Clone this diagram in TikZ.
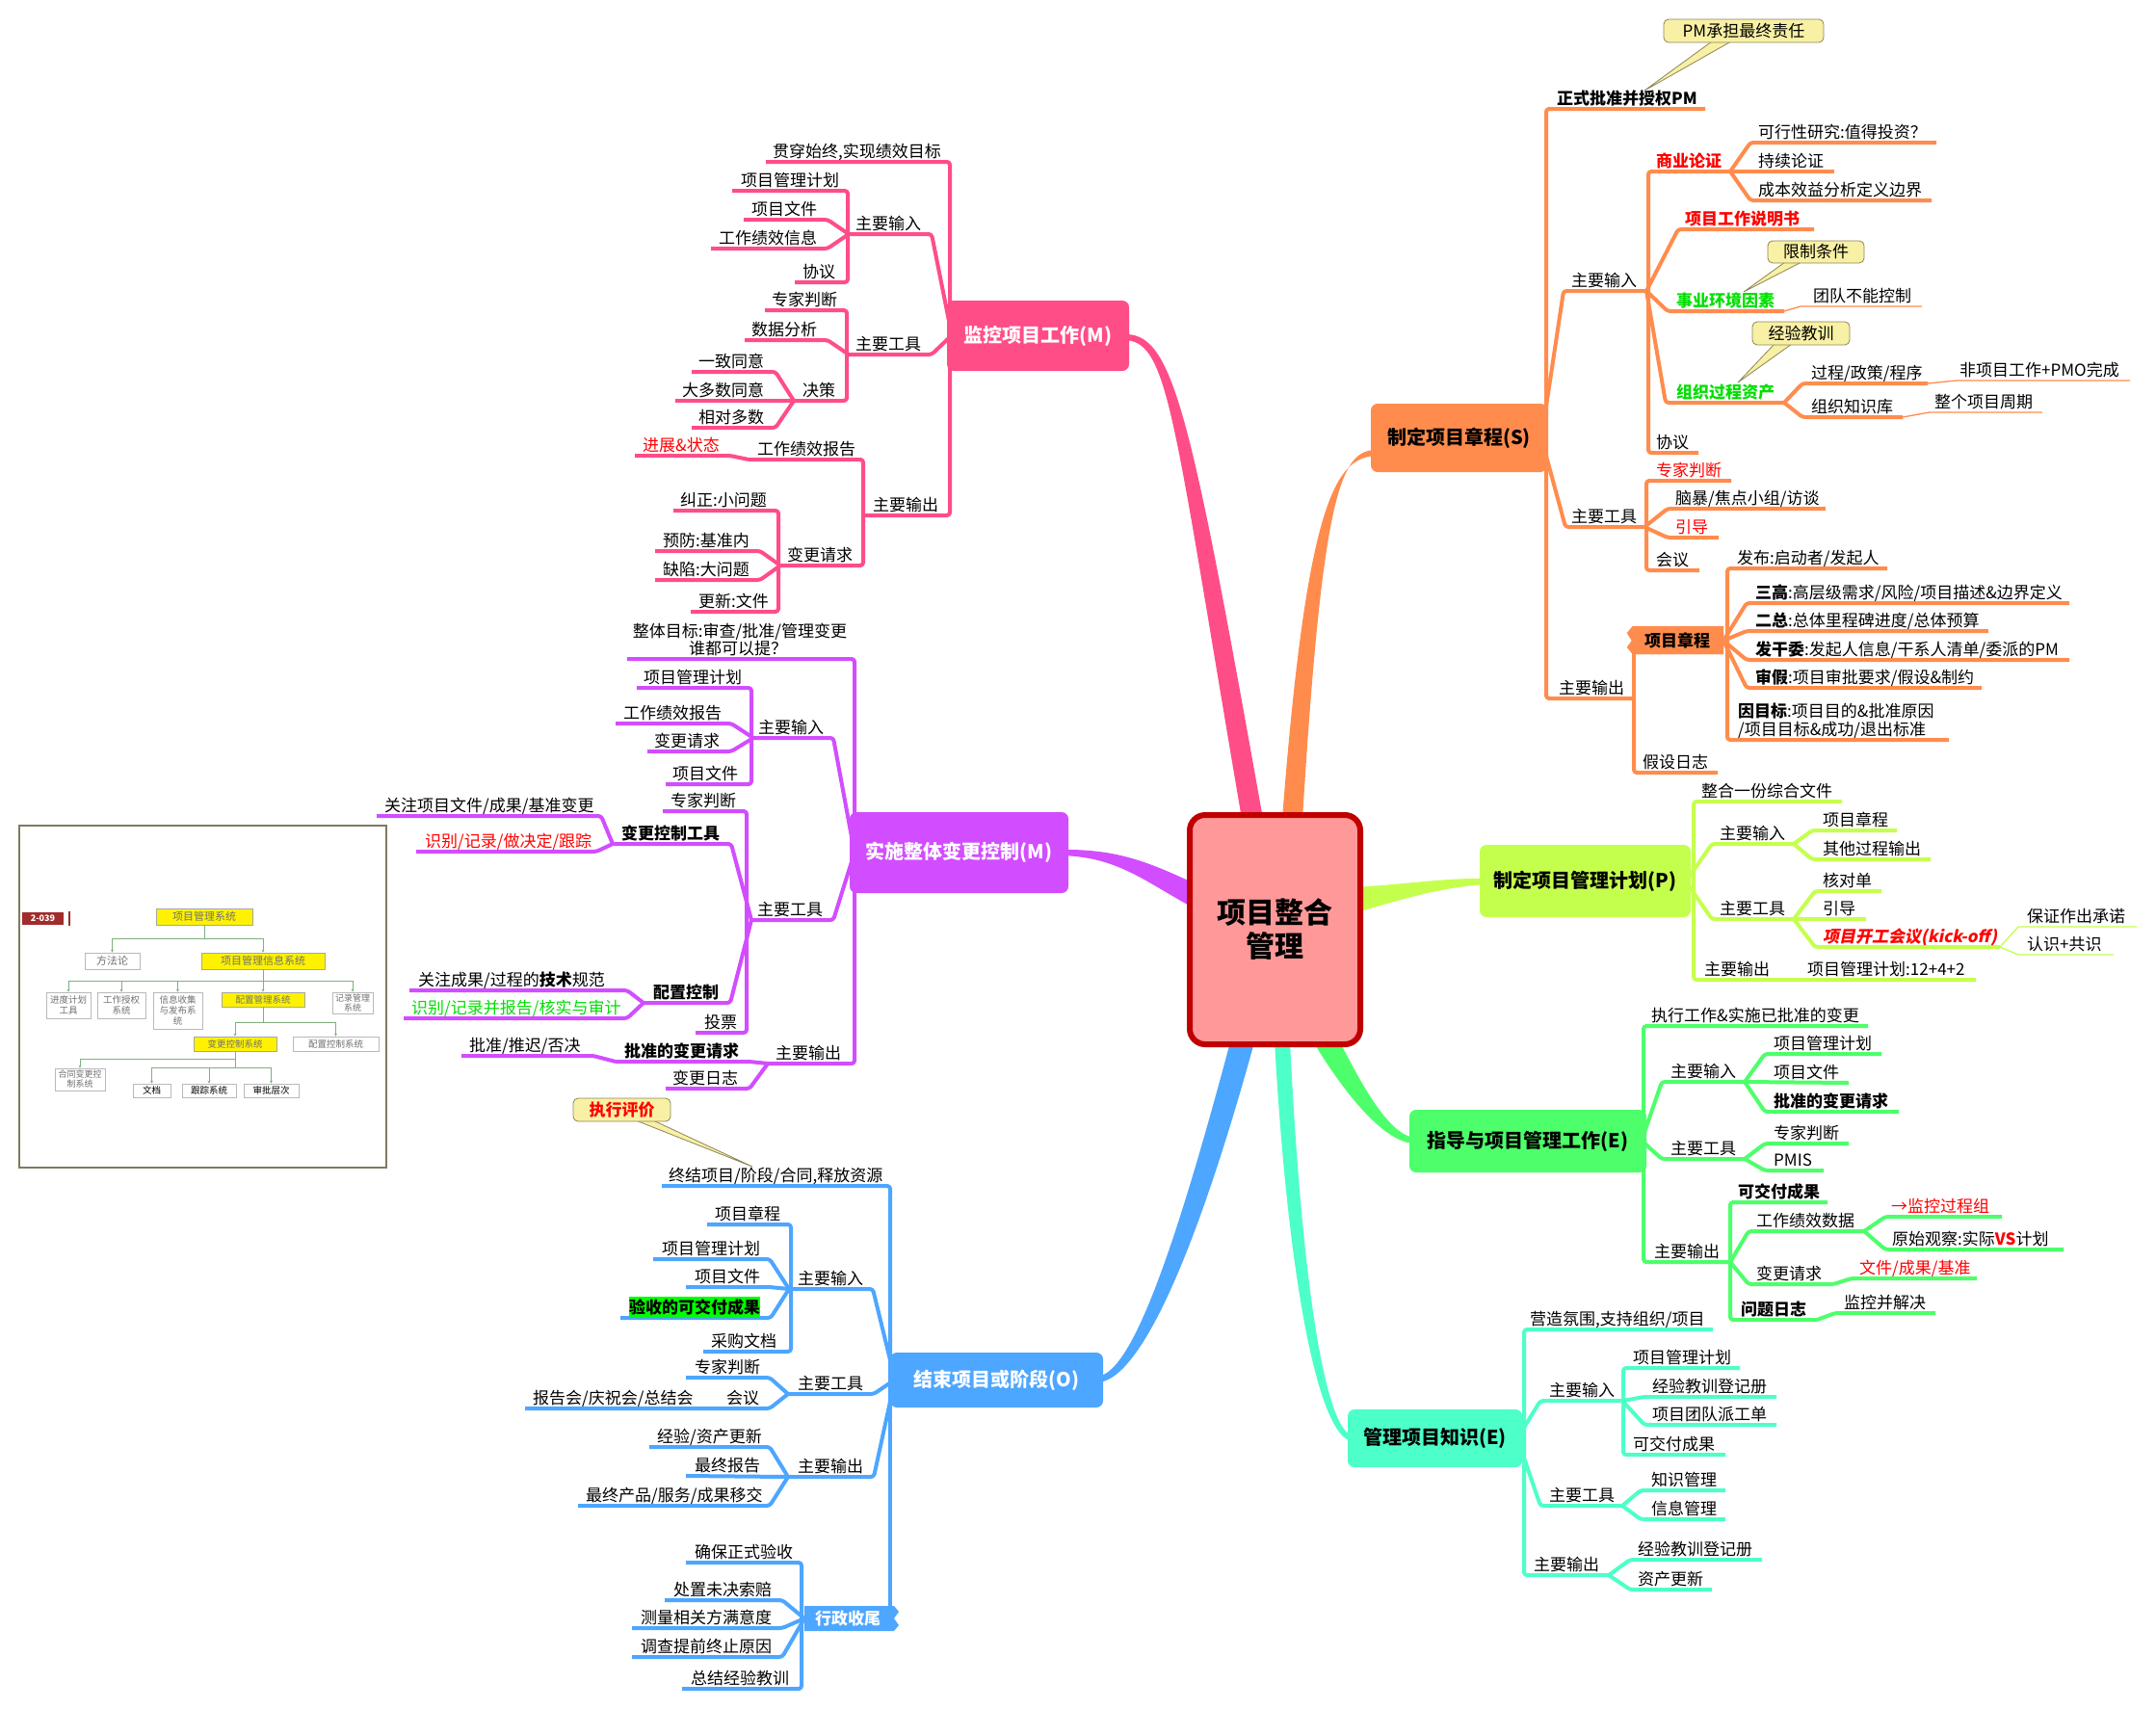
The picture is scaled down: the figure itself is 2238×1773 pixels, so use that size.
\documentclass[tikz,border=0pt]{standalone}
\usepackage{fontspec}
\setmainfont{Noto Sans CJK SC}
\newfontfamily\kickfont[FakeSlant=0.2]{Noto Sans CJK SC}
\usetikzlibrary{arrows.meta}
\definecolor{cM}{HTML}{FF4D88}
\definecolor{cS}{HTML}{FF8C4D}
\definecolor{cP}{HTML}{C5FF4D}
\definecolor{cE}{HTML}{4DFF6A}
\definecolor{cK}{HTML}{4DFFC8}
\definecolor{cO}{HTML}{4DA6FF}
\definecolor{cC}{HTML}{D24DFF}
\definecolor{cRoot}{HTML}{FF9999}
\definecolor{cRootB}{HTML}{C00000}
\definecolor{callY}{HTML}{F8F0A4}
\definecolor{callB}{HTML}{8C8658}
\definecolor{gtxt}{HTML}{00E000}
\definecolor{hlg}{HTML}{00FF00}
\definecolor{inF}{HTML}{7F7A60}
\definecolor{inG}{HTML}{7FB07F}
\definecolor{inT}{HTML}{707070}
\definecolor{badge}{HTML}{A02C2C}
\newcommand\fsN{\fontsize{17pt}{19.5pt}\selectfont}
\newcommand\fsT{\fontsize{20pt}{24pt}\selectfont\bfseries}
\newcommand\fsC{\fontsize{17pt}{20pt}\selectfont}
\newcommand\Lb[4][]{\node[lbl,#1] (#2) at (#3) {#4};}
\tikzset{
 lbl/.style={anchor=base west, yshift=5pt, inner sep=0pt, font=\fsN},
 bld/.style={font=\fsN\bfseries},
 ln/.style={line width=4pt, line join=round, line cap=butt, rounded corners=3pt},
 thn/.style={line width=1.3pt, line join=round},
 topic/.style={rounded corners=7pt, inner sep=0pt, font=\fsT, align=center},
 clbox/.style={fill=callY, draw=callB, line width=0.8pt, rounded corners=5pt, inner sep=0pt, font=\fsC},
 ibox/.style={draw=gray!55, fill=white, line width=0.6pt, inner sep=0pt, align=center, text=inT, font=\fontsize{9.5pt}{11pt}\selectfont},
 iyel/.style={ibox, fill=yellow, draw=gray!70},
 ic/.style={draw=inG, line width=0.8pt},
 ia/.style={ic, -{Stealth[length=3pt,width=3pt]}},
}
\begin{document}
\begin{tikzpicture}[x=1pt,y=-1pt]
\fill[white] (0,0) rectangle (2238,1773);
\useasboundingbox (0,0) rectangle (2238,1773);

% ---------- tapered main branches ----------
\fill[cM] (1165,347) .. controls (1217,344) and (1234,418) .. (1311,850) -- (1289,850) .. controls (1216,422) and (1213,352) .. (1165,353) -- cycle;
\fill[cS] (1430,467) .. controls (1392,466) and (1373,508) .. (1352,850) -- (1331,850) .. controls (1357,512) and (1388,474) .. (1430,473) -- cycle;
\fill[cP] (1545,912) .. controls (1500,911) and (1460,918) .. (1405,921) -- (1405,948) .. controls (1460,932) and (1500,920) .. (1545,918) -- cycle;
\fill[cE] (1470,1181) .. controls (1442,1180) and (1413,1125) .. (1388,1076) -- (1366,1086) .. controls (1396,1135) and (1438,1188) .. (1470,1187) -- cycle;
\fill[cK] (1405,1490) .. controls (1378,1489) and (1352,1350) .. (1339,1080) -- (1323,1080) .. controls (1338,1350) and (1372,1497) .. (1405,1496) -- cycle;
\fill[cO] (1138,1435) .. controls (1178,1436) and (1235,1325) .. (1302,1082) -- (1278,1078) .. controls (1215,1315) and (1172,1428) .. (1138,1429) -- cycle;
\fill[cC] (1100,882) .. controls (1160,881) and (1192,895) .. (1240,917) -- (1240,943) .. controls (1188,915) and (1160,889) .. (1100,888) -- cycle;

% ---------- S branch lines ----------
\begin{scope}[draw=cS]
\draw[ln] (1605,455) |- (1770,113);
\draw[ln] (1600,455) -- (1623,302) -- (1709,302);
\draw[ln] (1711,302) |- (1796,178);
\draw[ln] (1796,178) -- (1817,148) -- (2010,148);
\draw[ln] (1796,178) -- (1904,178);
\draw[ln] (1796,178) -- (1817,208) -- (2005,208);
\draw[ln] (1709,302) -- (1742,238) -- (1883,238);
\draw[ln] (1709,302) -- (1731,323) -- (1852,323);
\draw[thn] (1852,323) -- (1869,318) -- (1995,318);
\draw[ln] (1709,302) -- (1729,418) -- (1852,418);
\draw[ln] (1852,418) -- (1871,398) -- (2001,398);
\draw[thn] (2001,398) -- (2031,395) -- (2211,395);
\draw[ln] (1852,418) -- (1871,433) -- (1975,433);
\draw[thn] (1975,433) -- (2003,428) -- (2120,428);
\draw[ln] (1711,302) |- (1763,470);
\draw[ln] (1600,455) -- (1625,547) -- (1707,547);
\draw[ln] (1709,547) |- (1797,499);
\draw[ln] (1707,547) -- (1731,528) -- (1895,528);
\draw[ln] (1707,547) -- (1731,558) -- (1784,558);
\draw[ln] (1709,547) |- (1764,592);
\draw[ln] (1605,455) |- (1696,725);
\draw[ln] (1696,725) |- (1783,802);
\draw[ln] (1696,725) -- (1696,670);
\draw[ln] (1793,665) |- (1959,590);
\draw[ln] (1789,665) -- (1813,626) -- (2148,626);
\draw[ln] (1789,665) -- (1813,655) -- (2064,655);
\draw[ln] (1789,665) -- (1813,685) -- (2148,685);
\draw[ln] (1789,665) -- (1813,714) -- (2057,714);
\draw[ln] (1793,665) |- (2023,768);
\end{scope}
\filldraw[cS] (1695,650) -- (1789,650) -- (1789,679) -- (1695,679) -- (1689,672) -- (1694,665) -- (1689,657) -- cycle;

% ---------- P branch lines ----------
\begin{scope}[draw=cP]
\draw[ln] (1758,915) |- (1912,832);
\draw[ln] (1750,915) -- (1777,876) -- (1862,876);
\draw[ln] (1862,876) -- (1881,862) -- (1969,862);
\draw[ln] (1862,876) -- (1881,892) -- (2004,892);
\draw[ln] (1750,915) -- (1777,954) -- (1862,954);
\draw[ln] (1862,954) -- (1884,925) -- (1953,925);
\draw[ln] (1862,954) -- (1937,954);
\draw[ln] (1862,954) -- (1884,983) -- (2076,983);
\draw[thn] (2076,983) -- (2095,962) -- (2218,962);
\draw[thn] (2076,983) -- (2095,991) -- (2194,991);
\draw[ln] (1758,915) |- (2051,1017);
\end{scope}

% ---------- E branch lines ----------
\begin{scope}[draw=cE]
\draw[ln] (1706,1184) |- (1939,1065);
\draw[ln] (1704,1184) -- (1725,1123) -- (1811,1123);
\draw[ln] (1811,1123) -- (1832,1094) -- (1953,1094);
\draw[ln] (1811,1123) -- (1919,1124);
\draw[ln] (1811,1123) -- (1832,1154) -- (1971,1154);
\draw[ln] (1704,1184) -- (1725,1203) -- (1811,1203);
\draw[ln] (1811,1203) -- (1832,1187) -- (1919,1187);
\draw[ln] (1811,1203) -- (1832,1215) -- (1893,1215);
\draw[ln] (1706,1184) |- (1796,1310);
\draw[ln] (1796,1310) |- (1897,1248);
\draw[ln] (1796,1310) -- (1815,1278) -- (1935,1278);
\draw[ln] (1935,1278) -- (1957,1263) -- (2078,1263);
\draw[ln] (1935,1278) -- (1957,1297) -- (2142,1297);
\draw[ln] (1796,1310) -- (1815,1333) -- (1903,1333);
\draw[ln] (1903,1333) -- (1922,1327) -- (2052,1327);
\draw[ln] (1796,1310) |- (1886,1370);
\draw[ln] (1886,1370) -- (1905,1363) -- (2009,1363);
\end{scope}

% ---------- K branch lines ----------
\begin{scope}[draw=cK]
\draw[ln] (1582,1493) |- (1778,1380);
\draw[ln] (1575,1493) -- (1599,1454) -- (1684,1454);
\draw[ln] (1685,1454) |- (1806,1420);
\draw[ln] (1684,1454) -- (1707,1450) -- (1844,1450);
\draw[ln] (1684,1454) -- (1707,1479) -- (1844,1479);
\draw[ln] (1685,1454) |- (1791,1510);
\draw[ln] (1575,1493) -- (1599,1563) -- (1684,1563);
\draw[ln] (1684,1563) -- (1703,1547) -- (1791,1547);
\draw[ln] (1684,1563) -- (1703,1577) -- (1791,1577);
\draw[ln] (1582,1493) |- (1670,1635);
\draw[ln] (1670,1635) -- (1692,1619) -- (1829,1619);
\draw[ln] (1670,1635) -- (1692,1650) -- (1777,1650);
\end{scope}

% ---------- M (monitor) branch lines ----------
\begin{scope}[draw=cM]
\draw[ln] (986,348) |- (795,168);
\draw[ln] (988,348) -- (967,243) -- (881,243);
\draw[ln] (880,243) |- (760,198);
\draw[ln] (881,243) -- (859,228) -- (772,228);
\draw[ln] (881,243) -- (859,258) -- (738,258);
\draw[ln] (880,243) |- (825,293);
\draw[ln] (988,348) -- (967,368) -- (881,368);
\draw[ln] (879,368) |- (794,322);
\draw[ln] (881,368) -- (859,353) -- (773,353);
\draw[ln] (879,368) |- (824,416);
\draw[ln] (824,416) -- (805,386) -- (718,386);
\draw[ln] (824,416) -- (701,416);
\draw[ln] (824,416) -- (805,444) -- (718,444);
\draw[ln] (986,348) |- (897,535);
\draw[ln] (896,535) |- (777,477);
\draw[ln] (777,477) -- (758,473) -- (659,473);
\draw[ln] (896,535) |- (810,587);
\draw[ln] (808,587) |- (699,530);
\draw[ln] (810,587) -- (789,572) -- (680,572);
\draw[ln] (810,587) -- (789,602) -- (680,602);
\draw[ln] (808,587) |- (717,635);
\end{scope}

% ---------- CC branch lines ----------
\begin{scope}[draw=cC]
\draw[ln] (887,885) |- (651,684);
\draw[ln] (887,885) -- (865,766) -- (782,766);
\draw[ln] (780,766) |- (661,714);
\draw[ln] (782,766) -- (759,751) -- (639,751);
\draw[ln] (782,766) -- (759,780) -- (672,780);
\draw[ln] (780,766) |- (691,814);
\draw[ln] (887,885) -- (865,955) -- (780,955);
\draw[ln] (775,955) |- (688,842);
\draw[ln] (780,955) -- (759,876) -- (636,876);
\draw[ln] (636,876) -- (624,847) -- (391,847);
\draw[ln] (636,876) -- (619,884) -- (432,884);
\draw[ln] (780,955) -- (758,1041) -- (668,1041);
\draw[ln] (668,1041) -- (651,1028) -- (425,1028);
\draw[ln] (668,1041) -- (651,1057) -- (419,1057);
\draw[ln] (775,955) |- (722,1072);
\draw[ln] (887,885) |- (797,1104);
\draw[ln] (797,1104) -- (778,1102) -- (639,1102);
\draw[ln] (639,1102) -- (616,1096) -- (479,1096);
\draw[ln] (797,1104) -- (778,1130) -- (691,1130);
\end{scope}

% ---------- O branch lines ----------
\begin{scope}[draw=cO]
\draw[ln] (924,1432) |- (687,1231);
\draw[ln] (929,1432) -- (906,1338) -- (819,1338);
\draw[ln] (821,1338) |- (734,1271);
\draw[ln] (819,1338) -- (799,1307) -- (678,1307);
\draw[ln] (819,1338) -- (799,1336) -- (712,1336);
\draw[ln] (819,1338) -- (800,1368) -- (644,1368);
\draw[ln] (821,1338) |- (730,1403);
\draw[ln] (929,1432) -- (907,1447) -- (818,1447);
\draw[ln] (818,1447) -- (799,1430) -- (712,1430);
\draw[ln] (818,1447) -- (799,1462) -- (545,1462);
\draw[ln] (929,1432) -- (907,1533) -- (818,1533);
\draw[ln] (818,1533) -- (799,1502) -- (674,1502);
\draw[ln] (818,1533) -- (712,1532);
\draw[ln] (818,1533) -- (799,1563) -- (600,1563);
\draw[ln] (924,1432) -- (924,1670);
\draw[ln] (832,1680) |- (712,1622);
\draw[ln] (835,1680) -- (812,1661) -- (690,1661);
\draw[ln] (835,1680) -- (812,1690) -- (656,1690);
\draw[ln] (835,1680) -- (812,1720) -- (656,1720);
\draw[ln] (832,1680) |- (708,1753);
\end{scope}
\fill[cO] (835,1667) -- (928,1667) -- (933,1673) -- (928,1680) -- (933,1687) -- (928,1693) -- (835,1693) -- cycle;

% ---------- topic nodes ----------
\node[topic, fill=cS, minimum width=183pt, minimum height=71pt] (S) at (1514.5,454.5) {制定项目章程(S)};
\node[topic, fill=cP, minimum width=219pt, minimum height=75pt] (P) at (1645.5,914.5) {制定项目管理计划(P)};
\node[topic, fill=cE, minimum width=246pt, minimum height=65pt] (E) at (1586,1184.5) {指导与项目管理工作(E)};
\node[topic, fill=cK, minimum width=181pt, minimum height=60pt] (K) at (1489.5,1493) {管理项目知识(E)};
\node[topic, fill=cM, text=white, minimum width=189pt, minimum height=73pt] (M) at (1077.5,348.5) {监控项目工作(M)};
\node[topic, fill=cC, text=white, minimum width=227pt, minimum height=84pt] (C) at (995.5,885) {实施整体变更控制(M)};
\node[topic, fill=cO, text=white, minimum width=221pt, minimum height=57pt] (O) at (1034.5,1432.5) {结束项目或阶段(O)};
\node[draw=cRootB, line width=6pt, fill=cRoot, rounded corners=16pt, minimum width=177pt, minimum height=238pt, inner sep=0pt, font=\fontsize{30pt}{35pt}\selectfont\bfseries, align=center] (root) at (1323.5,965) {项目整合\\管理};

% ---------- callouts ----------
\filldraw[fill=callY, draw=callB, line width=0.8pt] (1777,43) -- (1707,94) -- (1797,43) -- cycle;
\node[clbox, minimum width=166pt, minimum height=24pt] (cl1) at (1810,32) {PM承担最终责任};
\filldraw[fill=callY, draw=callB, line width=0.8pt] (1853,272) -- (1810,303) -- (1870,272) -- cycle;
\node[clbox, minimum width=100pt, minimum height=23pt] (cl2) at (1885,261.5) {限制条件};
\filldraw[fill=callY, draw=callB, line width=0.8pt] (1842,357) -- (1804,397) -- (1860,357) -- cycle;
\node[clbox, minimum width=101pt, minimum height=24pt] (cl3) at (1869.5,346) {经验教训};
\filldraw[fill=callY, draw=callB, line width=0.8pt] (660,1163) -- (781,1211) -- (678,1163) -- cycle;
\node[clbox, minimum width=101pt, minimum height=24pt, text=red, font=\fsC\bfseries] (cl4) at (645.5,1152) {执行评价};

% ---------- S labels ----------
\Lb[bld]{s1}{1616,113}{正式批准并授权PM}
\Lb{s2}{1631,302}{主要输入}
\Lb[bld,text=red]{s3}{1719,178}{商业论证}
\Lb{s4}{1825,148}{可行性研究:值得投资？}
\Lb{s5}{1825,178}{持续论证}
\Lb{s6}{1825,208}{成本效益分析定义边界}
\Lb[bld,text=red]{s7}{1749,238}{项目工作说明书}
\Lb[bld,text=gtxt]{s8}{1740,323}{事业环境因素}
\Lb{s9}{1882,318}{团队不能控制}
\Lb[bld,text=gtxt]{s10}{1740,418}{组织过程资产}
\Lb{s11}{1880,398}{过程/政策/程序}
\Lb{s12}{2034,395}{非项目工作+PMO完成}
\Lb{s13}{1880,433}{组织知识库}
\Lb{s14}{2008,428}{整个项目周期}
\Lb{s15}{1719,470}{协议}
\Lb{s16}{1631,547}{主要工具}
\Lb[text=red]{s17}{1719,499}{专家判断}
\Lb{s18}{1739,528}{脑暴/焦点小组/访谈}
\Lb[text=red]{s19}{1739,558}{引导}
\Lb{s20}{1719,592}{会议}
\Lb{s21}{1618,725}{主要输出}
\Lb{s22}{1705,802}{假设日志}
\node[font=\fsN\bfseries, inner sep=0pt] (s23) at (1741,665) {项目章程};
\Lb{s24}{1803,590}{发布:启动者/发起人}
\Lb{s25}{1822,626}{{\bfseries 三高}:高层级需求/风险/项目描述\&边界定义}
\Lb{s26}{1822,655}{{\bfseries 二总}:总体里程碑进度/总体预算}
\Lb{s27}{1822,685}{{\bfseries 发干委}:发起人信息/干系人清单/委派的PM}
\Lb{s28}{1822,714}{{\bfseries 审假}:项目审批要求/假设\&制约}
\Lb{s29}{1804,749}{{\bfseries 因目标}:项目目的\&批准原因}
\Lb{s30}{1804,768}{/项目目标\&成功/退出标准}

% ---------- P labels ----------
\Lb{p1}{1766,832}{整合一份综合文件}
\Lb{p2}{1785,876}{主要输入}
\Lb{p3}{1892,862}{项目章程}
\Lb{p4}{1892,892}{其他过程输出}
\Lb{p5}{1785,954}{主要工具}
\Lb{p6}{1892,925}{核对单}
\Lb{p7}{1892,954}{引导}
\Lb[text=red]{p8}{1892,983}{{\kickfont\bfseries 项目开工会议(kick-off)}}
\Lb{p9}{2104,962}{保证作出承诺}
\Lb{p10}{2104,991}{认识+共识}
\Lb{p11}{1769,1017}{主要输出}
\Lb{p12}{1876,1017}{项目管理计划:12+4+2}

% ---------- E labels ----------
\Lb{e1}{1714,1065}{执行工作\&实施已批准的变更}
\Lb{e2}{1734,1123}{主要输入}
\Lb{e3}{1841,1094}{项目管理计划}
\Lb{e4}{1841,1124}{项目文件}
\Lb[bld]{e5}{1841,1154}{批准的变更请求}
\Lb{e6}{1734,1203}{主要工具}
\Lb{e7}{1841,1187}{专家判断}
\Lb{e8}{1841,1215}{PMIS}
\Lb{e9}{1717,1310}{主要输出}
\Lb[bld]{e10}{1804,1248}{可交付成果}
\Lb{e11}{1823,1278}{工作绩效数据}
\Lb[text=red]{e12}{1963,1263}{→监控过程组}
\Lb{e13}{1964,1297}{原始观察:实际{\bfseries\color{red}VS}计划}
\Lb{e14}{1823,1333}{变更请求}
\Lb[text=red]{e15}{1930,1327}{文件/成果/基准}
\Lb[bld]{e16}{1807,1370}{问题日志}
\Lb{e17}{1914,1363}{监控并解决}

% ---------- K labels ----------
\Lb{k1}{1588,1380}{营造氛围,支持组织/项目}
\Lb{k2}{1608,1454}{主要输入}
\Lb{k3}{1695,1420}{项目管理计划}
\Lb{k4}{1715,1450}{经验教训登记册}
\Lb{k5}{1715,1479}{项目团队派工单}
\Lb{k6}{1695,1510}{可交付成果}
\Lb{k7}{1608,1563}{主要工具}
\Lb{k8}{1714,1547}{知识管理}
\Lb{k9}{1714,1577}{信息管理}
\Lb{k10}{1592,1635}{主要输出}
\Lb{k11}{1700,1619}{经验教训登记册}
\Lb{k12}{1700,1650}{资产更新}

% ---------- M labels ----------
\Lb{m1}{802,168}{贯穿始终,实现绩效目标}
\Lb{m2}{888,243}{主要输入}
\Lb{m3}{769,198}{项目管理计划}
\Lb{m4}{780,228}{项目文件}
\Lb{m5}{746,258}{工作绩效信息}
\Lb{m6}{833,293}{协议}
\Lb{m7}{888,368}{主要工具}
\Lb{m8}{801,322}{专家判断}
\Lb{m9}{780,353}{数据分析}
\Lb{m10}{833,416}{决策}
\Lb{m11}{725,386}{一致同意}
\Lb{m12}{708,416}{大多数同意}
\Lb{m13}{725,444}{相对多数}
\Lb{m14}{906,535}{主要输出}
\Lb{m15}{786,477}{工作绩效报告}
\Lb[text=red]{m16}{667,473}{进展\&状态}
\Lb{m17}{817,587}{变更请求}
\Lb{m18}{706,530}{纠正:小问题}
\Lb{m19}{688,572}{预防:基准内}
\Lb{m20}{688,602}{缺陷:大问题}
\Lb{m21}{725,635}{更新:文件}

% ---------- CC labels ----------
\node[lbl, anchor=base] (c1a) at (768,666) {整体目标:审查/批准/管理变更};
\node[lbl, anchor=base] (c1b) at (766,684) {谁都可以提？};
\Lb{c2}{787,766}{主要输入}
\Lb{c3}{668,714}{项目管理计划}
\Lb{c4}{647,751}{工作绩效报告}
\Lb{c5}{679,780}{变更请求}
\Lb{c6}{698,814}{项目文件}
\Lb{c7}{786,955}{主要工具}
\Lb{c8}{696,842}{专家判断}
\Lb[bld]{c9}{645,876}{变更控制工具}
\Lb{c10}{399,847}{关注项目文件/成果/基准变更}
\Lb[text=red]{c11}{441,884}{识别/记录/做决定/跟踪}
\Lb[bld]{c12}{678,1041}{配置控制}
\Lb{c13}{434,1028}{关注成果/过程的{\bfseries 技术}规范}
\Lb[text=gtxt]{c14}{427,1057}{识别/记录并报告/核实与审计}
\Lb{c15}{731,1072}{投票}
\Lb{c16}{805,1104}{主要输出}
\Lb[bld]{c17}{648,1102}{批准的变更请求}
\Lb{c18}{487,1096}{批准/推迟/否决}
\Lb{c19}{698,1130}{变更日志}

% ---------- O labels ----------
\Lb{o1}{694,1231}{终结项目/阶段/合同,释放资源}
\Lb{o2}{828,1338}{主要输入}
\Lb{o3}{742,1271}{项目章程}
\Lb{o4}{687,1307}{项目管理计划}
\Lb{o5}{721,1336}{项目文件}
\Lb[bld, fill=hlg, inner ysep=2pt]{o6}{653,1368}{验收的可交付成果}
\Lb{o7}{738,1403}{采购文档}
\Lb{o8}{828,1447}{主要工具}
\Lb{o9}{721,1430}{专家判断}
\Lb{o10}{754,1462}{会议}
\Lb{o11}{553,1462}{报告会/庆祝会/总结会}
\Lb{o12}{828,1533}{主要输出}
\Lb{o13}{682,1502}{经验/资产更新}
\Lb{o14}{721,1532}{最终报告}
\Lb{o15}{608,1563}{最终产品/服务/成果移交}
\node[font=\fsN\bfseries, text=white, inner sep=0pt] (o16) at (880,1680) {行政收尾};
\Lb{o17}{721,1622}{确保正式验收}
\Lb{o18}{699,1661}{处置未决索赔}
\Lb{o19}{665,1690}{测量相关方满意度}
\Lb{o20}{665,1720}{调查提前终止原因}
\Lb{o21}{717,1753}{总结经验教训}

% ---------- inset picture ----------
\draw[draw=inF, line width=1.5pt, fill=white] (20,857) rectangle (401,1212);
\node[fill=badge, text=white, font=\fontsize{9pt}{10pt}\selectfont\bfseries, minimum width=43pt, minimum height=13pt, inner sep=0pt] (i0) at (44.5,953.5) {2-039};
\fill[badge] (70.5,946) rectangle (73,961);
\node[iyel, minimum width=100pt, minimum height=17pt, font=\fontsize{11pt}{12pt}\selectfont] (i1) at (212,951.5) {项目管理系统};
\node[ibox, minimum width=57pt, minimum height=17pt, font=\fontsize{11pt}{12pt}\selectfont] (i2) at (116.5,997.5) {方法论};
\node[iyel, minimum width=128pt, minimum height=17pt, font=\fontsize{11pt}{12pt}\selectfont] (i3) at (273,997.5) {项目管理信息系统};
\node[ibox, minimum width=46pt, minimum height=27pt] (i4) at (71,1043.5) {进度计划\\工具};
\node[ibox, minimum width=50pt, minimum height=27pt] (i5) at (126,1043.5) {工作授权\\系统};
\node[ibox, minimum width=51pt, minimum height=38pt] (i6) at (184.5,1049) {信息收集\\与发布系\\统};
\node[iyel, minimum width=86pt, minimum height=15pt] (i7) at (273,1037.5) {配置管理系统};
\node[ibox, minimum width=42pt, minimum height=22pt, font=\fontsize{9pt}{10pt}\selectfont] (i8) at (366,1041) {记录管理\\系统};
\node[iyel, minimum width=86pt, minimum height=15pt] (i9) at (244,1083.5) {变更控制系统};
\node[ibox, minimum width=89pt, minimum height=15pt] (i10) at (348.5,1083.5) {配置控制系统};
\node[ibox, minimum width=52pt, minimum height=23pt, font=\fontsize{9pt}{10pt}\selectfont] (i11) at (83,1120.5) {合同变更控\\制系统};
\node[ibox, text=black, minimum width=39pt, minimum height=14pt] (i12) at (157.5,1132) {文档};
\node[ibox, text=black, minimum width=56pt, minimum height=14pt] (i13) at (217,1132) {跟踪系统};
\node[ibox, text=black, minimum width=57pt, minimum height=14pt] (i14) at (281.5,1132) {审批层次};
\coordinate (j1) at (212,974);
\coordinate (j2) at (273,1018);
\coordinate (j3) at (273,1061);
\coordinate (j4) at (244,1099);
\coordinate (j5) at (244,1108);
\draw[ic] (i1.south) -- (j1);
\draw[ia] (j1) -| (i2.north);
\draw[ia] (j1) -| (i3.north);
\draw[ic] (i3.south) -- (j2);
\draw[ia] (j2) -| (i4.north);
\draw[ia] (j2) -| (i5.north);
\draw[ia] (j2) -| (i6.north);
\draw[ia] (j2) -- (i7.north);
\draw[ia] (j2) -| (i8.north);
\draw[ic] (i7.south) -- (j3);
\draw[ia] (j3) -| (i9.north);
\draw[ia] (j3) -| (i10.north);
\draw[ic] (i9.south) -- (j5);
\draw[ia] (j4) -| (i11.north);
\draw[ia] (j5) -| (i12.north);
\draw[ia] (j5) -| (i13.north);
\draw[ia] (j5) -| (i14.north);
\end{tikzpicture}
\end{document}
